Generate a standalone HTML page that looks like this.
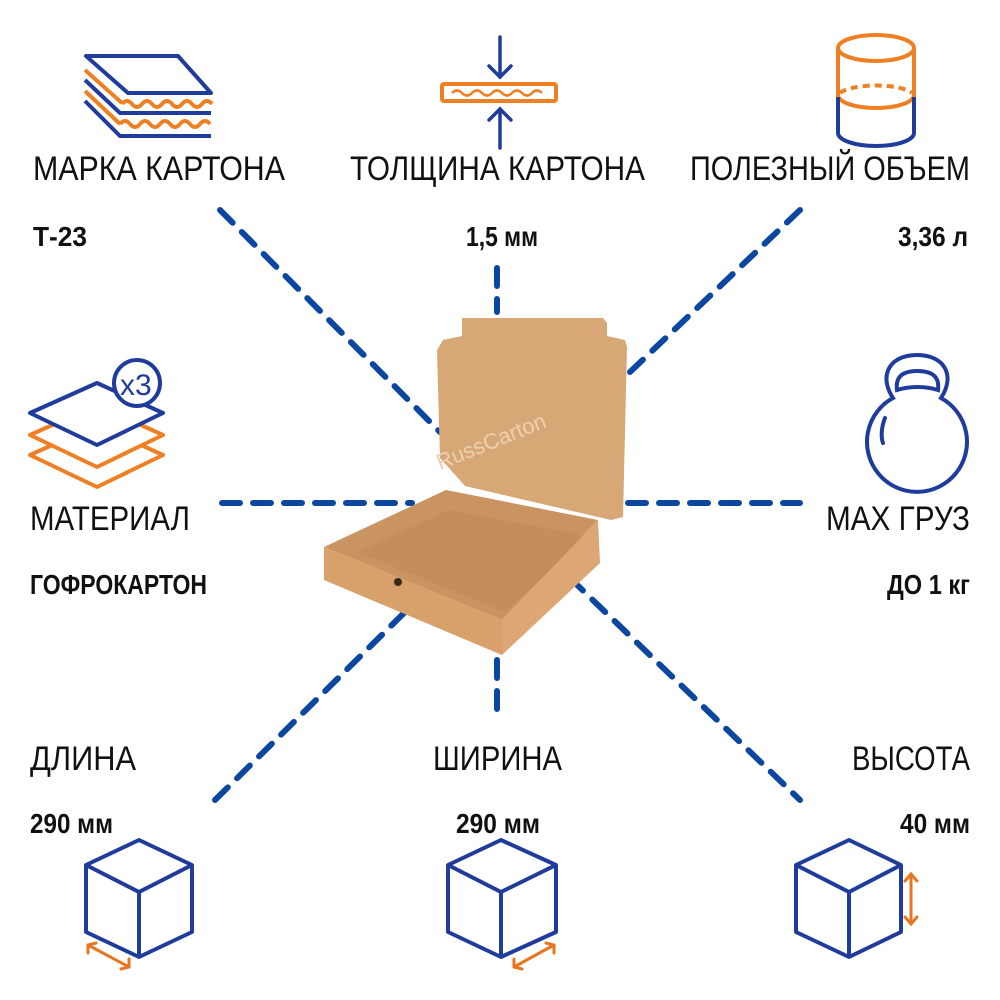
<!DOCTYPE html>
<html><head><meta charset="utf-8"><style>
html,body{margin:0;padding:0;background:#fff;}
svg{display:block;}
text{font-family:"Liberation Sans Narrow","Liberation Sans",sans-serif;fill:#111;}
.h{font-size:34px;}
.v{font-size:28px;font-weight:bold;}
</style></head><body>
<svg width="1000" height="1000" viewBox="0 0 1000 1000" xmlns="http://www.w3.org/2000/svg">
<!-- dashed connectors -->
<g stroke="#0b47a0" stroke-width="6" stroke-dasharray="18 13" stroke-linecap="round" fill="none">
<line x1="220" y1="210" x2="440" y2="432"/>
<line x1="497" y1="268" x2="497" y2="312"/>
<line x1="800" y1="210" x2="630" y2="372"/>
<line x1="222" y1="503" x2="412" y2="503"/>
<line x1="628" y1="503" x2="800" y2="503"/>
<line x1="215" y1="800" x2="405" y2="612"/>
<line x1="497" y1="660" x2="497" y2="712"/>
<line x1="570" y1="578" x2="800" y2="800"/>
</g>
<!-- box -->
<g stroke="none">
<polygon points="443,340 462,336 462,318 603,318 607,323 607,336 625,340 627,347 623,517 611,520 465,486 440,458 437,350" fill="#d7a776"/>
<polygon points="324,547 446,490 598,520 502,620" fill="#c99462"/>
<polygon points="358,552 448,510 588,536 505,612" fill="#c48d5b"/>
<polygon points="324,547 502,620 502,655 324,580" fill="#d8a06a"/>
<polygon points="502,620 598,520 600,563 502,655" fill="#dca774"/>
<circle cx="398" cy="582" r="4" fill="#3a2a1a"/>
</g>
<text x="440" y="470" transform="rotate(-22 440 470)" style="font-size:22px;fill:#ecd1b0">RussCarton</text>
<!-- icon: marka -->
<g fill="none" stroke-width="4" stroke-linejoin="round">
<polygon points="86,56 178,56 211,93 128,93" stroke="#1f3c9c"/>
<polyline points="85,70 122,103" stroke="#ef7f23"/>
<path d="M122,104 q5,-6 10,0 t10,0 t10,0 t10,0 t10,0 t10,0 t10,0 t10,0 t10,0" stroke="#ef7f23"/>
<polyline points="85,80 120,113 211,113" stroke="#1f3c9c"/>
<polyline points="85,91 120,124" stroke="#ef7f23"/>
<path d="M120,124 q5,-6 10,0 t10,0 t10,0 t10,0 t10,0 t10,0 t10,0 t10,0 t10,0" stroke="#ef7f23"/>
<polyline points="85,101 120,136 211,136" stroke="#1f3c9c"/>
</g>
<!-- icon: thickness -->
<g fill="none" stroke-width="4">
<rect x="442" y="84" width="114" height="17" rx="2" stroke="#ef7f23"/>
<path d="M452,93 q5,-5 10,0 t10,0 t10,0 t10,0 t10,0 t10,0 t10,0 t10,0 t10,0" stroke="#ef7f23" stroke-width="2.5"/>
<g stroke="#1f3c9c" stroke-width="3.5" stroke-linecap="round">
<line x1="500" y1="37" x2="500" y2="77"/><polyline points="489,66 500,77 511,66"/>
<line x1="500" y1="109" x2="500" y2="148"/><polyline points="489,120 500,109 511,120"/>
</g>
</g>
<!-- icon: cylinder -->
<g fill="none" stroke-width="4">
<ellipse cx="876" cy="48" rx="38" ry="13" stroke="#ef7f23"/>
<line x1="838" y1="48" x2="838" y2="95" stroke="#ef7f23"/>
<line x1="914" y1="48" x2="914" y2="95" stroke="#ef7f23"/>
<path d="M838,95 a38,13 0 0 0 76,0" stroke="#ef7f23"/>
<path d="M840,93 a38,11 0 0 1 72,0" stroke="#ef7f23" stroke-dasharray="7 5"/>
<path d="M838,97 L838,133 a38,13 0 0 0 76,0 L914,97" stroke="#1f3c9c"/>
</g>
<!-- icon: material -->
<g fill="none" stroke-width="4" stroke-linejoin="round">
<polygon points="30,455 97,425 163,455 97,487" stroke="#ef7f23"/>
<polygon points="30,435 97,405 163,435 97,467" stroke="#ef7f23" fill="#fff"/>
<polygon points="30,413 97,383 163,413 97,445" stroke="#1f3c9c" fill="#fff"/>
<circle cx="137" cy="383" r="23" stroke="#1f3c9c" fill="#fff"/>
</g>
<text x="120" y="395" style="font-size:30px;fill:#1f3c9c">x3</text>
<!-- icon: weight -->
<g fill="none" stroke="#1f3c9c" stroke-width="4">
<path d="M893,398 C878,375 890,355 917,355 C944,355 956,375 941,398 A50,50 0 1 1 893,398 Z"/>
<path d="M897,390 C895,375 905,371 917,371 C930,371 940,375 938,390 C925,386 910,386 897,390 Z"/>
<path d="M885,418 C881,428 881,438 883,443" stroke-linecap="round"/>
</g>
<!-- cubes -->
<g fill="none" stroke="#1f3c9c" stroke-width="4" stroke-linejoin="round">
<path d="M139,840 L192,865 L192,932 L139,957 L86,932 L86,865 Z M86,865 L139,892 L192,865 M139,892 L139,957"/>
<path d="M501,840 L556,865 L556,932 L501,957 L448,932 L448,865 Z M448,865 L501,892 L556,865 M501,892 L501,957"/>
<path d="M849,840 L901,865 L901,932 L849,957 L796,932 L796,865 Z M796,865 L849,892 L901,865 M849,892 L849,957"/>
</g>
<g fill="none" stroke="#e9761f" stroke-width="3" stroke-linecap="round">
<line x1="88" y1="945" x2="129" y2="967"/><polyline points="88,953 88,945 96,943"/><polyline points="121,969 129,967 129,959"/>
<line x1="514" y1="967" x2="554" y2="945"/><polyline points="514,959 514,967 522,969"/><polyline points="546,943 554,945 554,953"/>
<line x1="911" y1="874" x2="911" y2="924"/><polyline points="905,881 911,874 917,881"/><polyline points="905,917 911,924 917,917"/>
</g>
<!-- labels -->
<text class="h" x="33" y="180" textLength="252" lengthAdjust="spacingAndGlyphs">МАРКА КАРТОНА</text>
<text class="v" x="33" y="246" textLength="54" lengthAdjust="spacingAndGlyphs">Т-23</text>
<text class="h" x="350" y="180" textLength="295" lengthAdjust="spacingAndGlyphs">ТОЛЩИНА КАРТОНА</text>
<text class="v" x="466" y="246" textLength="72" lengthAdjust="spacingAndGlyphs">1,5 мм</text>
<text class="h" x="690" y="180" textLength="280" lengthAdjust="spacingAndGlyphs">ПОЛЕЗНЫЙ ОБЪЕМ</text>
<text class="v" x="898" y="246" textLength="70" lengthAdjust="spacingAndGlyphs">3,36 л</text>
<text class="h" x="30" y="530" textLength="160" lengthAdjust="spacingAndGlyphs">МАТЕРИАЛ</text>
<text class="v" x="30" y="594" textLength="177" lengthAdjust="spacingAndGlyphs">ГОФРОКАРТОН</text>
<text class="h" x="826" y="530" textLength="144" lengthAdjust="spacingAndGlyphs">MAX ГРУЗ</text>
<text class="v" x="887" y="594" textLength="83" lengthAdjust="spacingAndGlyphs">ДО 1 кг</text>
<text class="h" x="30" y="770" textLength="106" lengthAdjust="spacingAndGlyphs">ДЛИНА</text>
<text class="v" x="30" y="833" textLength="83" lengthAdjust="spacingAndGlyphs">290 мм</text>
<text class="h" x="433" y="770" textLength="129" lengthAdjust="spacingAndGlyphs">ШИРИНА</text>
<text class="v" x="456" y="833" textLength="84" lengthAdjust="spacingAndGlyphs">290 мм</text>
<text class="h" x="852" y="770" textLength="118" lengthAdjust="spacingAndGlyphs">ВЫСОТА</text>
<text class="v" x="900" y="833" textLength="70" lengthAdjust="spacingAndGlyphs">40 мм</text>
</svg>
</body></html>
